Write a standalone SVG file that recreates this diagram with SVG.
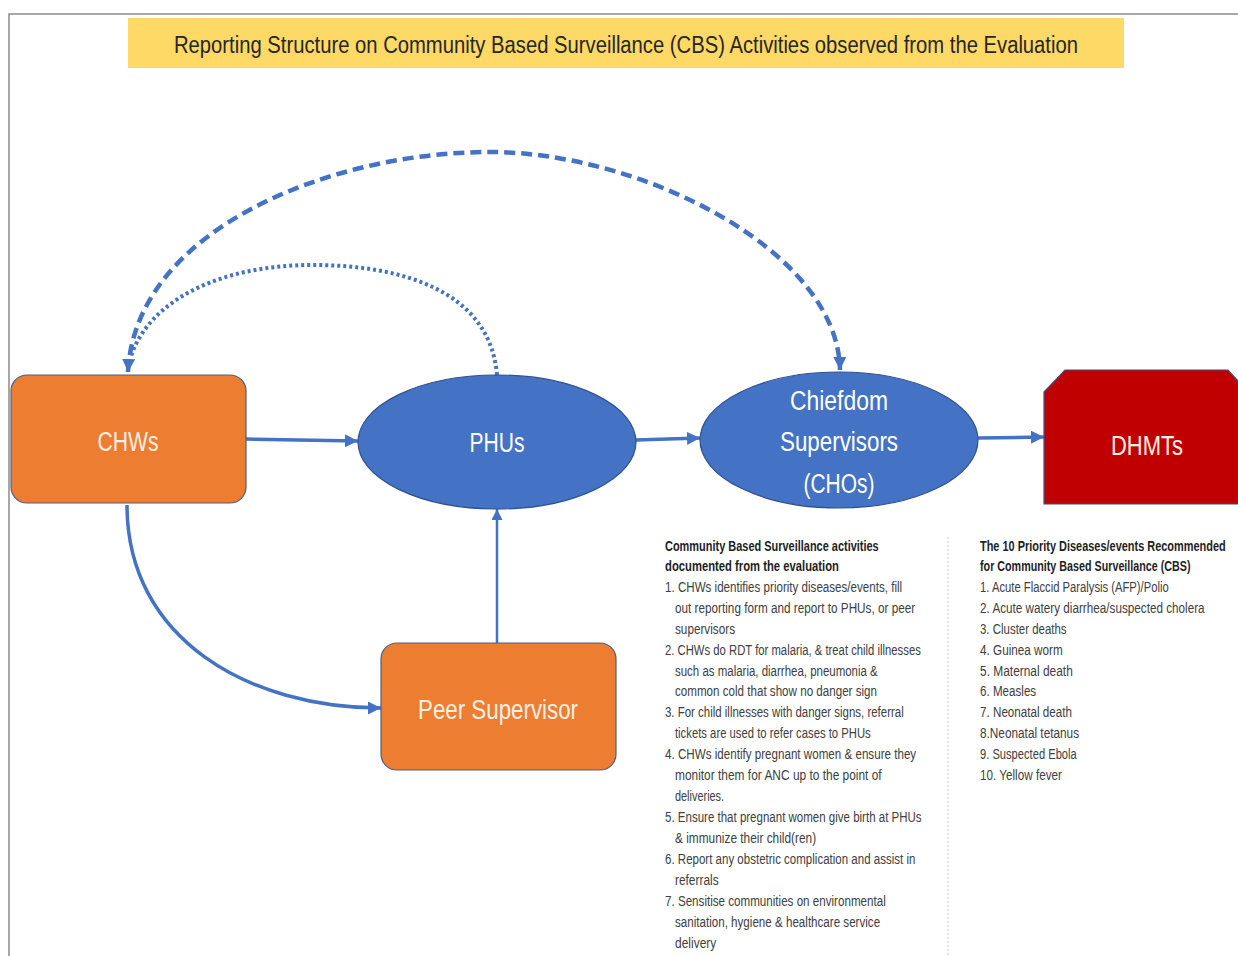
<svg xmlns="http://www.w3.org/2000/svg" width="1238" height="956" viewBox="0 0 1238 956">
<defs>
<style>
.lbl{font-family:"Liberation Sans",Arial,sans-serif;font-size:27px;text-anchor:middle}
.lo{fill:#FDF0E4}
.lb{fill:#FFFFFF}
.t{font-family:"Liberation Sans",Arial,sans-serif;font-size:14.5px;fill:#404040}
.h{font-weight:bold;font-size:14px;fill:#1E1E1E}
.conn{fill:none;stroke:#4472C4}
</style>
<marker id="ah" viewBox="0 0 10 10" refX="10" refY="5" markerWidth="13" markerHeight="13" markerUnits="userSpaceOnUse" orient="auto-start-reverse">
<path d="M0,0 L10,5 L0,10 z" fill="#4472C4"/>
</marker>
<marker id="ahs" viewBox="0 0 10 10" refX="10" refY="5" markerWidth="11" markerHeight="11" markerUnits="userSpaceOnUse" orient="auto-start-reverse">
<path d="M0,0 L10,5 L0,10 z" fill="#4472C4"/>
</marker>
</defs>
<rect width="1238" height="956" fill="#FFFFFF"/>
<path d="M9,956 V14 H1238" fill="none" stroke="#8A8A8A" stroke-width="1.5"/>

<g id="title">
<rect x="128" y="18" width="996" height="50" fill="#FFD966"/>
<text x="626" y="53" font-family="Liberation Sans, Arial, sans-serif" font-size="23" fill="#262626" text-anchor="middle" textLength="904" lengthAdjust="spacingAndGlyphs">Reporting Structure on Community Based Surveillance (CBS) Activities observed from the Evaluation</text>
</g>

<g id="connectors">
<line class="conn" x1="246" y1="439" x2="358" y2="441" stroke-width="3.5" marker-end="url(#ah)"/>
<line class="conn" x1="636" y1="440" x2="700" y2="438" stroke-width="3.5" marker-end="url(#ah)"/>
<line class="conn" x1="978" y1="438" x2="1044" y2="437" stroke-width="3.5" marker-end="url(#ah)"/>
<line class="conn" x1="497" y1="643" x2="497" y2="509" stroke-width="2.5" marker-end="url(#ahs)"/>
<path class="conn" d="M127,505 C127,640 250,708 381,708" stroke-width="3.5" marker-end="url(#ah)"/>
<path class="conn" d="M128,372 C135,230 330,152 490,152 C640,152 838,250 840,370" stroke-width="4.5" stroke-dasharray="11 6" marker-start="url(#ah)" marker-end="url(#ah)"/>
<path class="conn" d="M497,375 C490,290 400,265 313,265 C220,265 150,300 131,356" stroke-width="4" stroke-dasharray="3 3"/>
</g>

<g id="chws">
<rect x="11" y="375" width="235" height="128" rx="16" fill="#ED7D31" stroke="#4F5F80" stroke-width="1.2"/>
<text class="lbl lo" x="128" y="451" textLength="61" lengthAdjust="spacingAndGlyphs">CHWs</text>
</g>

<g id="phus">
<ellipse cx="497" cy="442" rx="139" ry="67" fill="#4472C4" stroke="#2F528F" stroke-width="1.2"/>
<text class="lbl lb" x="497" y="452" textLength="55" lengthAdjust="spacingAndGlyphs">PHUs</text>
</g>

<g id="chiefdom">
<ellipse cx="839" cy="440" rx="139" ry="68" fill="#4472C4" stroke="#2F528F" stroke-width="1.2"/>
<text class="lbl lb" x="839" y="410" textLength="98" lengthAdjust="spacingAndGlyphs">Chiefdom</text>
<text class="lbl lb" x="839" y="451" textLength="118" lengthAdjust="spacingAndGlyphs">Supervisors</text>
<text class="lbl lb" x="839" y="493" textLength="71" lengthAdjust="spacingAndGlyphs">(CHOs)</text>
</g>

<g id="dhmts">
<polygon points="1044,392 1065,370 1228,370 1248,392 1248,504 1044,504" fill="#C00000" stroke="#3F4F80" stroke-width="1.2"/>
<text class="lbl lo" x="1147" y="455" textLength="72" lengthAdjust="spacingAndGlyphs">DHMTs</text>
</g>

<g id="peer">
<rect x="381" y="643" width="235" height="127" rx="16" fill="#ED7D31" stroke="#4F5F80" stroke-width="1.2"/>
<text class="lbl lo" x="498" y="719" textLength="160" lengthAdjust="spacingAndGlyphs">Peer Supervisor</text>
</g>

<line x1="948" y1="537" x2="948" y2="956" stroke="#D0D0D0" stroke-width="1.2" stroke-dasharray="2 2"/>

<g id="activities" transform="translate(665 0) scale(0.78 1)">
<text class="t h" x="0" y="551" textLength="274" lengthAdjust="spacingAndGlyphs">Community Based Surveillance activities</text>
<text class="t h" x="0" y="571" textLength="223" lengthAdjust="spacingAndGlyphs">documented from the evaluation</text>
<text class="t" x="0" y="592" textLength="304" lengthAdjust="spacingAndGlyphs">1. CHWs identifies priority diseases/events, fill</text>
<text class="t" x="12.8" y="613" textLength="308" lengthAdjust="spacingAndGlyphs">out reporting form and report to PHUs, or peer</text>
<text class="t" x="12.8" y="634" textLength="77" lengthAdjust="spacingAndGlyphs">supervisors</text>
<text class="t" x="0" y="655" textLength="328" lengthAdjust="spacingAndGlyphs">2. CHWs do RDT for malaria, &amp; treat child illnesses</text>
<text class="t" x="12.8" y="676" textLength="260" lengthAdjust="spacingAndGlyphs">such as malaria, diarrhea, pneumonia &amp;</text>
<text class="t" x="12.8" y="696" textLength="259" lengthAdjust="spacingAndGlyphs">common cold that show no danger sign</text>
<text class="t" x="0" y="717" textLength="306" lengthAdjust="spacingAndGlyphs">3. For child illnesses with danger signs, referral</text>
<text class="t" x="12.8" y="738" textLength="251" lengthAdjust="spacingAndGlyphs">tickets are used to refer cases to PHUs</text>
<text class="t" x="0" y="759" textLength="322" lengthAdjust="spacingAndGlyphs">4. CHWs identify pregnant women &amp; ensure they</text>
<text class="t" x="12.8" y="780" textLength="265" lengthAdjust="spacingAndGlyphs">monitor them for ANC up to the point of</text>
<text class="t" x="12.8" y="801" textLength="63" lengthAdjust="spacingAndGlyphs">deliveries.</text>
<text class="t" x="0" y="822" textLength="329" lengthAdjust="spacingAndGlyphs">5. Ensure that pregnant women give birth at PHUs</text>
<text class="t" x="12.8" y="843" textLength="181" lengthAdjust="spacingAndGlyphs">&amp; immunize their child(ren)</text>
<text class="t" x="0" y="864" textLength="321" lengthAdjust="spacingAndGlyphs">6. Report any obstetric complication and assist in</text>
<text class="t" x="12.8" y="885" textLength="56" lengthAdjust="spacingAndGlyphs">referrals</text>
<text class="t" x="0" y="906" textLength="283" lengthAdjust="spacingAndGlyphs">7. Sensitise communities on environmental</text>
<text class="t" x="12.8" y="927" textLength="263" lengthAdjust="spacingAndGlyphs">sanitation, hygiene &amp; healthcare service</text>
<text class="t" x="12.8" y="948" textLength="53" lengthAdjust="spacingAndGlyphs">delivery</text>
</g>

<g id="priority" transform="translate(980 0) scale(0.78 1)">
<text class="t h" x="0" y="551" textLength="315" lengthAdjust="spacingAndGlyphs">The 10 Priority Diseases/events Recommended</text>
<text class="t h" x="0" y="571" textLength="270" lengthAdjust="spacingAndGlyphs">for Community Based Surveillance (CBS)</text>
<text class="t" x="0" y="592" textLength="242" lengthAdjust="spacingAndGlyphs">1. Acute Flaccid Paralysis (AFP)/Polio</text>
<text class="t" x="0" y="613" textLength="288" lengthAdjust="spacingAndGlyphs">2. Acute watery diarrhea/suspected cholera</text>
<text class="t" x="0" y="634" textLength="111" lengthAdjust="spacingAndGlyphs">3. Cluster deaths</text>
<text class="t" x="0" y="655" textLength="106" lengthAdjust="spacingAndGlyphs">4. Guinea worm</text>
<text class="t" x="0" y="676" textLength="119" lengthAdjust="spacingAndGlyphs">5. Maternal death</text>
<text class="t" x="0" y="696" textLength="72" lengthAdjust="spacingAndGlyphs">6. Measles</text>
<text class="t" x="0" y="717" textLength="118" lengthAdjust="spacingAndGlyphs">7. Neonatal death</text>
<text class="t" x="0" y="738" textLength="127" lengthAdjust="spacingAndGlyphs">8.Neonatal tetanus</text>
<text class="t" x="0" y="759" textLength="124" lengthAdjust="spacingAndGlyphs">9. Suspected Ebola</text>
<text class="t" x="0" y="780" textLength="105" lengthAdjust="spacingAndGlyphs">10. Yellow fever</text>
</g>
</svg>
